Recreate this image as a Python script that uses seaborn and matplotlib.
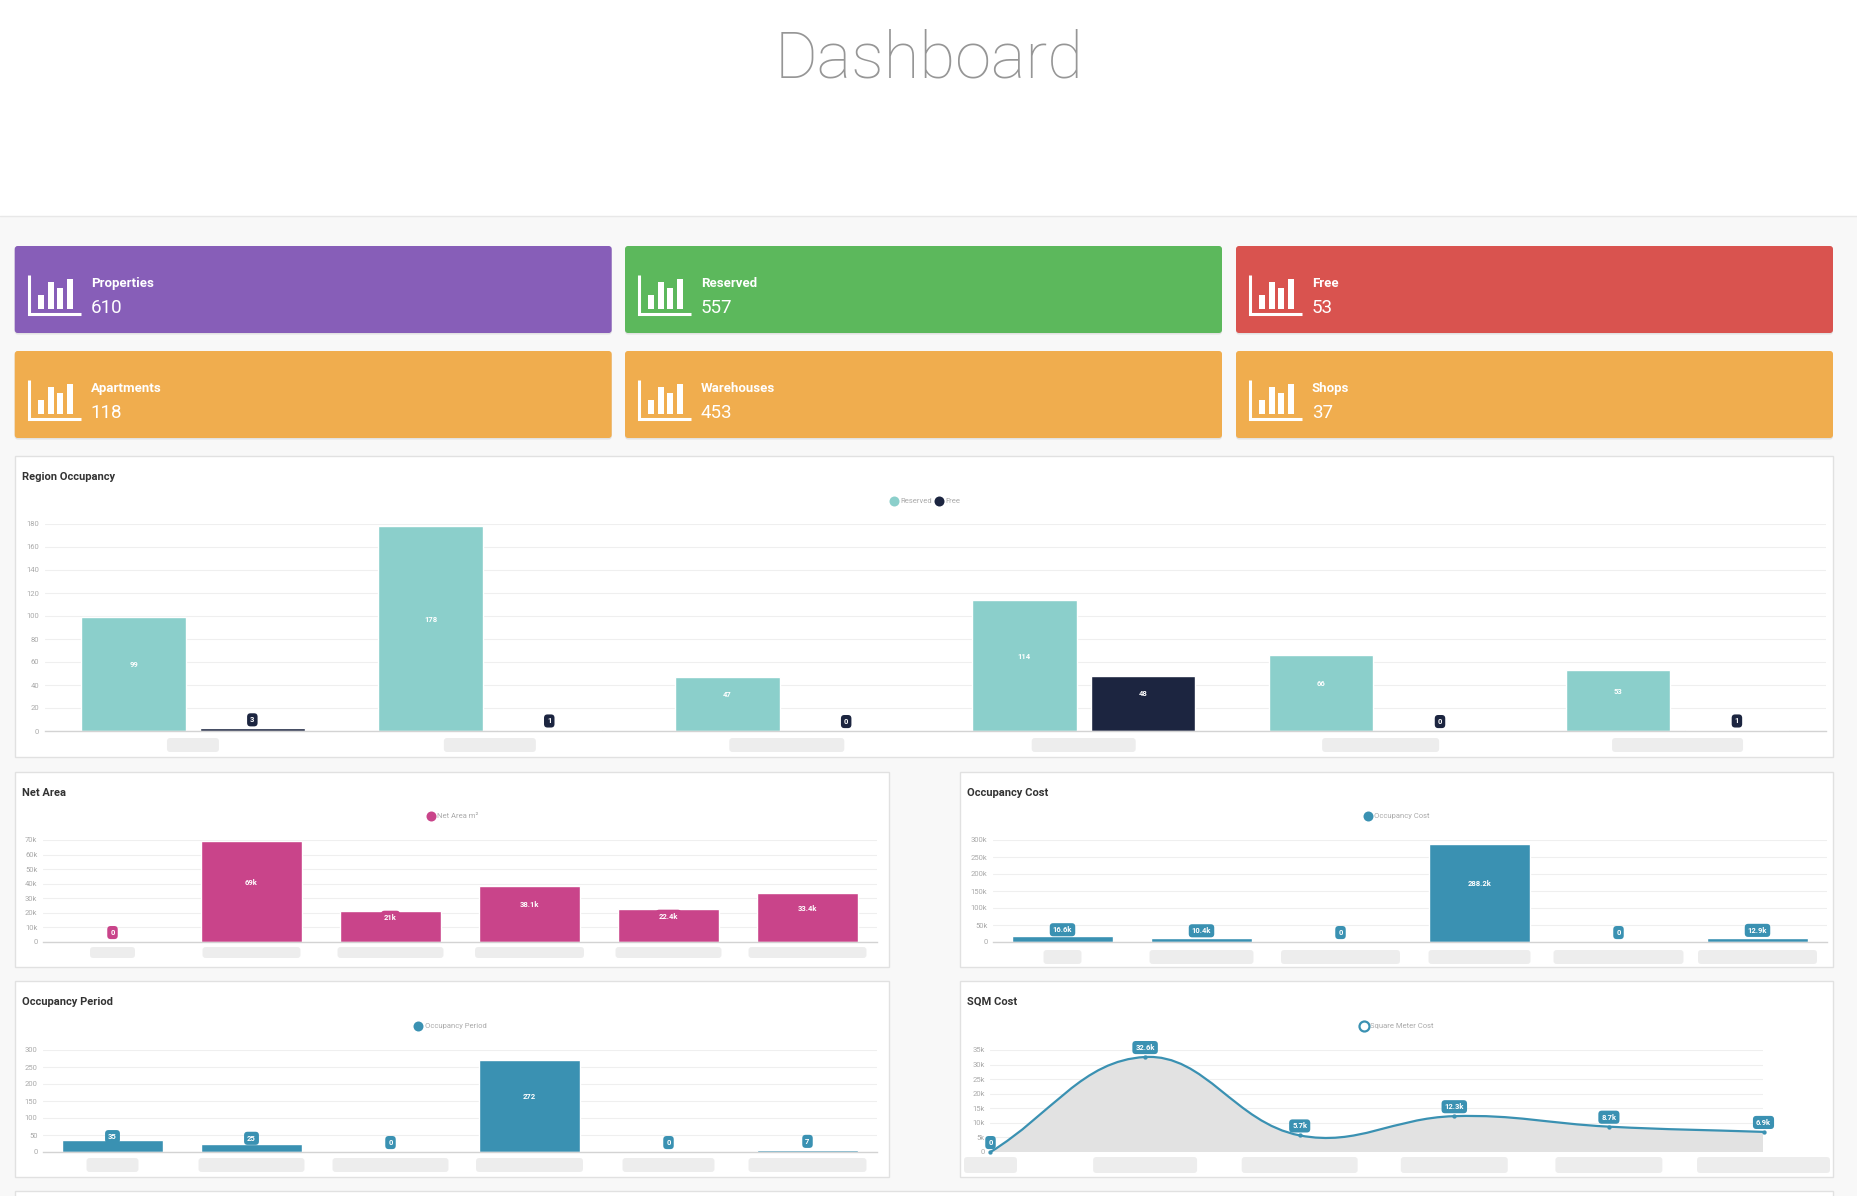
import numpy as np
import pandas as pd
import matplotlib
matplotlib.use('Agg')
import matplotlib.pyplot as plt
import seaborn as sns
from matplotlib.patches import FancyBboxPatch, Rectangle, PathPatch
from matplotlib.path import Path
from matplotlib.lines import Line2D
from matplotlib.ticker import FuncFormatter, MultipleLocator

# 데이터
card_labels = ['Properties', 'Reserved', 'Free', 'Apartments', 'Warehouses', 'Shops']
card_values = [610, 557, 53, 118, 453, 37]

regions = ['Region 1', 'Region 2', 'Region 3', 'Region 4', 'Region 5', 'Region 6']
reserved = [99, 178, 47, 114, 66, 53]
free = [3, 1, 0, 48, 0, 1]

units = ['Unit 1', 'Unit 2', 'Unit 3', 'Unit 4', 'Unit 5', 'Unit 6']
net_area = [0, 69000, 21000, 38100, 22400, 33400]
occ_cost = [16600, 10400, 0, 288200, 0, 12900]
occ_period = [35, 25, 0, 272, 0, 7]
sqm_cost = [0, 32600, 5700, 12300, 8700, 6900]

# 스타일
card_colors = ['#875EB8', '#5CB85C', '#D9534F', '#F0AD4E', '#F0AD4E', '#F0AD4E']
TEAL = '#8BCFCB'
NAVY = '#1C2540'
MAGENTA = '#C9448A'
BLUE = '#3A91B2'

sns.set_theme(style='white')
plt.rcParams['font.family'] = ['Roboto', 'DejaVu Sans']

W, H = 1858, 1196
fig = plt.figure(figsize=(W / 100, H / 100), dpi=100)
fig.patch.set_facecolor('white')

bg = fig.add_axes([0, 0, 1, 1])
bg.set_xlim(0, W)
bg.set_ylim(H, 0)
bg.axis('off')
bg.set_zorder(-1)


def px_ax(x0, y0, x1, y1):
    ax = fig.add_axes([x0 / W, 1 - y1 / H, (x1 - x0) / W, (y1 - y0) / H])
    ax.set_facecolor('none')
    return ax


def kfmt(v, pos=None):
    if v == 0:
        return '0'
    if abs(v) >= 1000:
        s = f'{v / 1000:.1f}'
        if s.endswith('.0'):
            s = s[:-2]
        return s + 'k'
    return f'{v:g}'


def style_ax(ax, ymax, step, k=False):
    ax.set_ylim(0, ymax)
    ax.yaxis.set_major_locator(MultipleLocator(step))
    if k:
        ax.yaxis.set_major_formatter(FuncFormatter(kfmt))
    ax.grid(axis='y', color='#efefef', lw=0.8)
    ax.grid(axis='x', visible=False)
    ax.set_axisbelow(True)
    for s in ['top', 'right', 'left']:
        ax.spines[s].set_visible(False)
    ax.spines['bottom'].set_color('#d3d3d3')
    ax.spines['bottom'].set_linewidth(1)
    ax.tick_params(axis='y', labelsize=5.5, colors='#aaaaaa', length=2, pad=2)
    ax.tick_params(axis='x', length=0, labelbottom=False)
    ax.set_xlabel('')
    ax.set_ylabel('')


def badge(ax, x, y, text, fc, dy=6.8):
    ax.annotate(text, (x, y), xytext=(0, dy), textcoords='offset points',
                ha='center', va='center', fontsize=5.5, color='white', fontweight='bold',
                bbox=dict(boxstyle='round,pad=0.4,rounding_size=0.45', fc=fc, ec='none'),
                zorder=6, annotation_clip=False)


def blobs(ax, widths, y_px, h=14):
    for i, w in enumerate(widths):
        xc = ax.transData.transform((i, 0))[0]
        bg.add_patch(FancyBboxPatch((xc - w / 2, y_px), w, h,
                                    boxstyle='round,pad=0,rounding_size=3',
                                    fc='#ececec', ec='none', alpha=0.9))


def legend(ax, handles, cx, cy):
    ax.legend(handles=handles, loc='center', bbox_to_anchor=(cx / W, 1 - cy / H),
              bbox_transform=fig.transFigure, ncol=len(handles), frameon=False,
              fontsize=5.5, labelcolor='#aaaaaa', handletextpad=0.45,
              columnspacing=0.6, handlelength=0.7)


def dot(color, label, hollow=False):
    return Line2D([], [], marker='o', ls='', ms=7.2, mfc='white' if hollow else color,
                  mec=color, mew=1.6 if hollow else 0, label=label)


# 배경, 헤더
bg.add_patch(Rectangle((0, 216), W, H - 216, fc='#f8f8f8', ec='none'))
bg.plot([0, W], [216, 216], color='#e8e8e8', lw=1)
bg.text(W / 2, 77, 'Dashboard', ha='center', va='baseline', fontsize=47,
        color='#969696', fontweight='light')

# 카드
card_x = [14.7, 625, 1236]
card_y = [246, 351]
for k, (lab, val, col) in enumerate(zip(card_labels, card_values, card_colors)):
    r, c = divmod(k, 3)
    x0, y0 = card_x[c], card_y[r]
    bg.add_patch(FancyBboxPatch((x0, y0 + 1.5), 597, 87, boxstyle='round,pad=0,rounding_size=3',
                                fc='#e2e2e2', ec='none'))
    bg.add_patch(FancyBboxPatch((x0, y0), 597, 87, boxstyle='round,pad=0,rounding_size=3',
                                fc=col, ec='none'))
    bg.plot([x0 + 14, x0 + 14, x0 + 66], [y0 + 29, y0 + 68, y0 + 68], color='white',
            lw=2.2, solid_joinstyle='miter', solid_capstyle='butt')
    for bx, top in [(23, 49), (33, 36), (42, 42), (52, 33)]:
        bg.add_patch(Rectangle((x0 + bx, y0 + top), 6, 63 - top, fc='white', ec='none'))
    bg.text(x0 + 76, y0 + 41, lab, fontsize=9.5, color='white', fontweight='bold', va='baseline')
    bg.text(x0 + 76, y0 + 67, str(val), fontsize=13.5, color='white', fontweight='normal',
            va='baseline')

# 패널
panels = [
    ('Region Occupancy', (15, 456, 1833, 757)),
    ('Net Area', (15, 772, 889, 967)),
    ('Occupancy Cost', (960, 772, 1833, 967)),
    ('Occupancy Period', (15, 981, 889, 1177)),
    ('SQM Cost', (960, 981, 1833, 1177)),
]
for title, (x0, y0, x1, y1) in panels:
    bg.add_patch(Rectangle((x0, y0), x1 - x0, y1 - y0, fc='white', ec='#e1e1e1', lw=1))
    bg.text(x0 + 7, y0 + 24, title, fontsize=8, color='#333333', fontweight='bold',
            va='baseline')
bg.add_patch(Rectangle((15, 1191), 1818, 30, fc='white', ec='#e1e1e1', lw=1))

# 1) Region Occupancy
ax = px_ax(44.5, 524, 1826, 731)
df_reg = pd.DataFrame({'region': regions * 2,
                       'value': reserved + free,
                       'status': ['Reserved'] * 6 + ['Free'] * 6})
sns.barplot(data=df_reg, x='region', y='value', hue='status',
            palette={'Reserved': TEAL, 'Free': NAVY}, saturation=1,
            width=0.8, gap=0.12, legend=False, ax=ax)
style_ax(ax, 180, 20)
for cont, col in zip(ax.containers, [TEAL, NAVY]):
    for p in cont:
        h = p.get_height()
        badge(ax, p.get_x() + p.get_width() / 2, h / 2, f'{h:g}', col)
legend(ax, [dot(TEAL, 'Reserved'), dot(NAVY, 'Free')], 926, 501)
blobs(ax, [52, 92, 115, 104, 117, 131], 738)


# 2-4) 단일 시리즈 막대
def single_bar(rect, cats, vals, color, ymax, step, k, leg_label, leg_pos, blob_w, blob_y, blob_h):
    ax = px_ax(*rect)
    sns.barplot(x=cats, y=vals, color=color, saturation=1, width=0.72, ax=ax)
    style_ax(ax, ymax, step, k)
    for p in ax.patches:
        h = p.get_height()
        badge(ax, p.get_x() + p.get_width() / 2, h / 2, kfmt(h), color)
    legend(ax, [dot(color, leg_label)], *leg_pos)
    blobs(ax, blob_w, blob_y, blob_h)
    return ax


single_bar((43, 840, 877, 942), units, net_area, MAGENTA, 70000, 10000, True,
           'Net Area m²', (453, 816), [45, 98, 106, 109, 106, 118], 947, 11)
single_bar((993, 840, 1827, 942), units, occ_cost, BLUE, 300000, 50000, True,
           'Occupancy Cost', (1397, 816), [38, 104, 119, 102, 130, 119], 950, 14)
single_bar((43, 1050, 877, 1152), units, occ_period, BLUE, 300, 50, False,
           'Occupancy Period', (451, 1026), [52, 106, 116, 107, 92, 118], 1158, 14)

# 5) SQM Cost - 곡선
ax = px_ax(990.5, 1050, 1763.5, 1152)
ax.set_xlim(0, 5)
style_ax(ax, 35000, 5000, True)
ax.spines['bottom'].set_visible(False)
xs = np.arange(len(sqm_cost), dtype=float)
pts = ax.transData.transform(np.column_stack([xs, sqm_cost]))
t = 0.4
n = len(pts)
cp_prev = pts.copy()
cp_next = pts.copy()
for i in range(n):
    p0 = pts[i - 1] if i > 0 else pts[i]
    p1 = pts[i]
    p2 = pts[i + 1] if i < n - 1 else pts[i]
    d01 = np.hypot(*(p1 - p0))
    d12 = np.hypot(*(p2 - p1))
    s01 = d01 / (d01 + d12)
    s12 = d12 / (d01 + d12)
    cp_prev[i] = p1 - t * s01 * (p2 - p0)
    cp_next[i] = p1 + t * s12 * (p2 - p0)
verts = [pts[0]]
codes = [Path.MOVETO]
for i in range(n - 1):
    verts += [cp_next[i], cp_prev[i + 1], pts[i + 1]]
    codes += [Path.CURVE4] * 3
verts = ax.transData.inverted().transform(np.array(verts))
fill_verts = np.vstack([verts, [[xs[-1], 0], [xs[0], 0], [xs[0], 0]]])
fill_codes = codes + [Path.LINETO, Path.LINETO, Path.CLOSEPOLY]
ax.add_patch(PathPatch(Path(fill_verts, fill_codes), fc='#e2e2e2', ec='none', zorder=2))
ax.add_patch(PathPatch(Path(verts, codes), fc='none', ec=BLUE, lw=1.6, zorder=3))
sns.scatterplot(x=xs, y=sqm_cost, color=BLUE, s=8, edgecolor=BLUE, ax=ax, zorder=4,
                legend=False, clip_on=False)
ax.set_xlim(0, 5)
ax.set_ylim(0, 35000)
for x, v in zip(xs, sqm_cost):
    badge(ax, x, v, kfmt(v), BLUE)
legend(ax, [dot(BLUE, 'Square Meter Cost', hollow=True)], 1397, 1026)
blobs(ax, [53, 104, 116, 107, 107, 133], 1157, 16)

fig.savefig('out.png', dpi=100)
